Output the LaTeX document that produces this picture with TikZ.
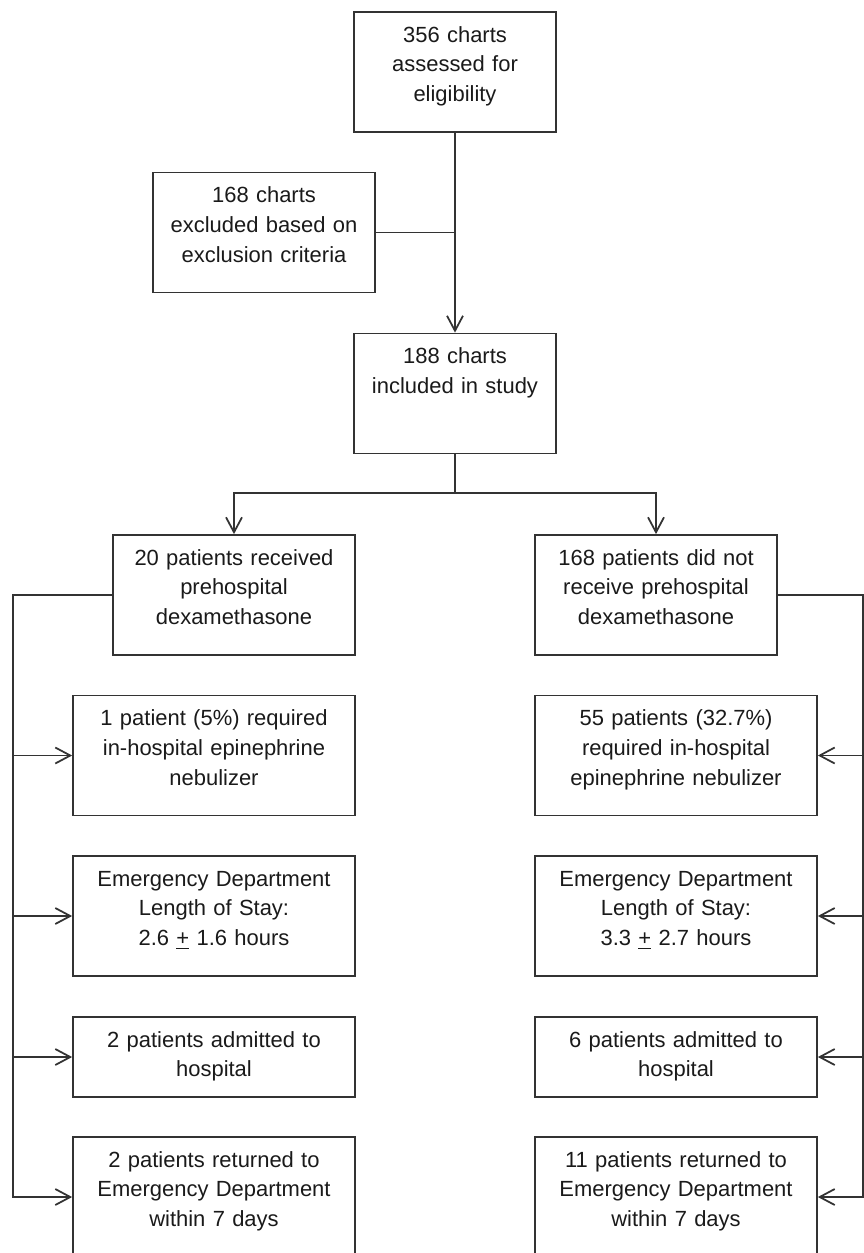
\documentclass[tikz,border=0pt]{standalone}
\usepackage{fontspec}
\setmainfont{Liberation Sans}
\usepackage{xcolor}
\usetikzlibrary{arrows.meta}
\definecolor{lineGray}{HTML}{333333}
\definecolor{textBlack}{HTML}{1A1A1A}
\tikzset{
  chartBox/.style={draw=lineGray, line width=1pt, align=center, inner sep=0pt,
    text=textBlack, font=\fontsize{12.5}{17}\selectfont,
    text height=0.6cm, text depth=1.8cm},
  shortBox/.style={chartBox, text depth=1.0cm},
  flowLine/.style={draw=lineGray, line width=1pt},
  >={Straight Barb[length=3mm,width=3.2mm]}
}
\begin{document}
\begin{tikzpicture}[x=0.02cm, y=-0.02cm]
     \clip (0,0) rectangle (864,1253);
     % Screening.
     \node [chartBox, text width=4.04cm] (assess) at (455,72) {356 charts\\assessed for\\eligibility};
     \node [chartBox, text width=4.44cm] (excl) at (264,232.5) {168 charts\\excluded based on\\exclusion criteria};
     \node [chartBox, text width=4.04cm] (incl) at (455,393.5) {188 charts\\included in study};
     \draw [flowLine, ->] (assess.south) -- (incl.north);
     \draw [flowLine] (excl.east) -- (excl.east -| assess.south);
     % Groups.
     \node [chartBox, text width=4.84cm] (dexa) at (234,595) {20 patients received\\prehospital\\dexamethasone};
     \node [chartBox, text width=4.84cm] (noDexa) at (656,595) {168 patients did not\\receive prehospital\\dexamethasone};
     \coordinate (split) at (455,493);
     \draw [flowLine] (incl.south) -- (split);
     \draw [flowLine, ->] (split) -| (dexa.north);
     \draw [flowLine, ->] (split) -| (noDexa.north);
     % Outcomes, dexamethasone group.
     \node [chartBox, text width=5.64cm] (dexaNeb) at (214,755.5) {1 patient (5\%) required\\in-hospital epinephrine\\nebulizer};
     \node [chartBox, text width=5.64cm] (dexaStay) at (214,916) {Emergency Department\\Length of Stay:\\2.6 \underline{+} 1.6 hours};
     \node [shortBox, text width=5.64cm] (dexaAdm) at (214,1057) {2 patients admitted to\\hospital};
     \node [chartBox, text width=5.64cm] (dexaRet) at (214,1197) {2 patients returned to\\Emergency Department\\within 7 days};
     % Outcomes, no dexamethasone group.
     \node [chartBox, text width=5.64cm] (noDexaNeb) at (676,755.5) {55 patients (32.7\%)\\required in-hospital\\epinephrine nebulizer};
     \node [chartBox, text width=5.64cm] (noDexaStay) at (676,916) {Emergency Department\\Length of Stay:\\3.3 \underline{+} 2.7 hours};
     \node [shortBox, text width=5.64cm] (noDexaAdm) at (676,1057) {6 patients admitted to\\hospital};
     \node [chartBox, text width=5.64cm] (noDexaRet) at (676,1197) {11 patients returned to\\Emergency Department\\within 7 days};
     % Rails.
     \coordinate (leftRail) at (13,1198);
     \coordinate (rightRail) at (863,1198);
     \draw [flowLine] (dexa.west) -| (leftRail);
     \draw [flowLine] (noDexa.east) -| (rightRail);
     \foreach \out in {dexaNeb, dexaStay, dexaAdm, dexaRet}
       \draw [flowLine, ->] (leftRail |- \out.west) -- (\out.west);
     \foreach \out in {noDexaNeb, noDexaStay, noDexaAdm, noDexaRet}
       \draw [flowLine, ->] (rightRail |- \out.east) -- (\out.east);
\end{tikzpicture}
\end{document}
